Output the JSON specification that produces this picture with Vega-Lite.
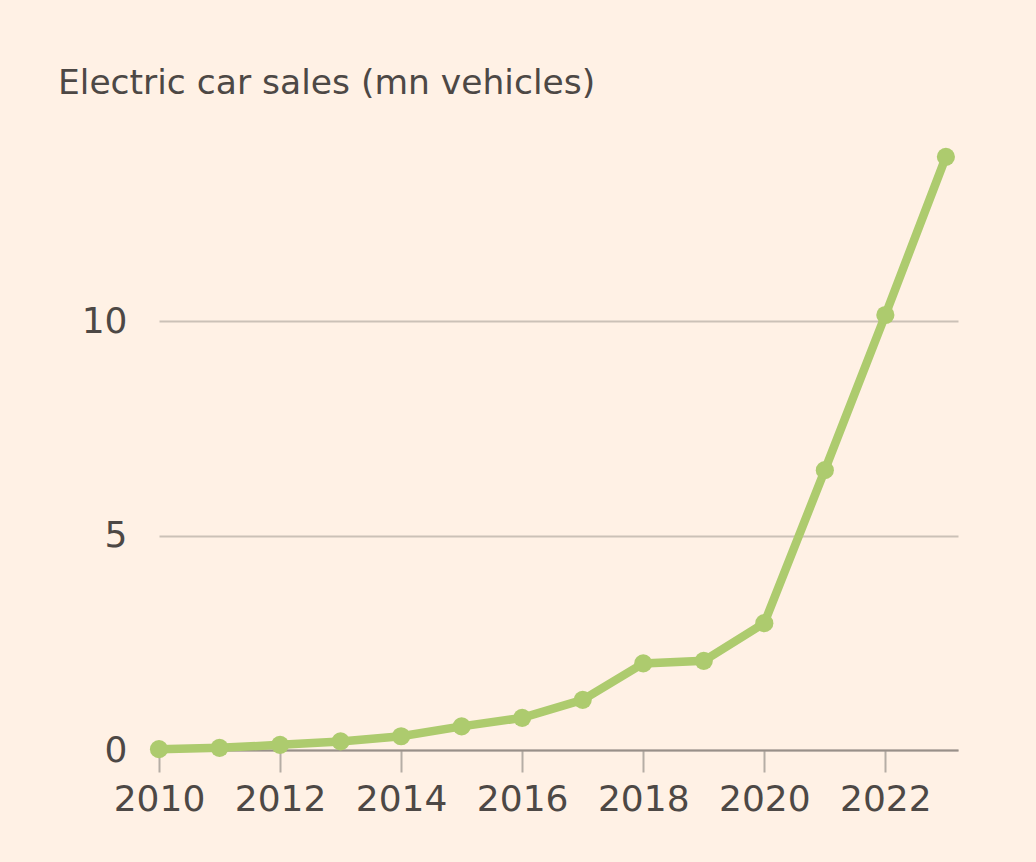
{
  "$schema": "https://vega.github.io/schema/vega-lite/v6.json",
  "width": 799,
  "height": 600,
  "autosize": {"type": "none"},
  "padding": {"left": 159, "top": 150, "right": 78, "bottom": 112},
  "background": "#FFF1E5",
  "title": {
    "text": "Electric car sales (mn vehicles)",
    "anchor": "start",
    "frame": "group",
    "dx": -101,
    "offset": 38,
    "font": "DejaVu Sans",
    "fontSize": 34.5,
    "fontWeight": "normal",
    "color": "#4D4845"
  },
  "config": {
    "view": {"stroke": null},
    "axis": {"labelFont": "DejaVu Sans", "labelColor": "#4D4845", "labelFontSize": 36}
  },
  "data": {
    "values": [
      {"year": 2010, "sales": 0.02},
      {"year": 2011, "sales": 0.05},
      {"year": 2012, "sales": 0.12},
      {"year": 2013, "sales": 0.2},
      {"year": 2014, "sales": 0.32},
      {"year": 2015, "sales": 0.55},
      {"year": 2016, "sales": 0.75},
      {"year": 2017, "sales": 1.17},
      {"year": 2018, "sales": 2.02},
      {"year": 2019, "sales": 2.08},
      {"year": 2020, "sales": 2.96},
      {"year": 2021, "sales": 6.53},
      {"year": 2022, "sales": 10.15},
      {"year": 2023, "sales": 13.84}
    ]
  },
  "encoding": {
    "x": {
      "field": "year",
      "type": "quantitative",
      "scale": {"domain": [2010, 2023.2], "nice": false, "zero": false},
      "axis": {
        "title": null,
        "values": [2010, 2012, 2014, 2016, 2018, 2020, 2022],
        "format": "d",
        "grid": false,
        "domainColor": "#999089",
        "domainWidth": 2,
        "tickColor": "#B5ADA5",
        "tickWidth": 2,
        "tickSize": 22,
        "labelPadding": 10,
        "labelFlush": false
      }
    },
    "y": {
      "field": "sales",
      "type": "quantitative",
      "scale": {"domain": [0, 14], "nice": false},
      "axis": {
        "title": null,
        "values": [0, 5, 10],
        "domain": false,
        "ticks": false,
        "gridColor": "#CBC1B7",
        "gridWidth": 2,
        "labelPadding": 32,
        "labelBaseline": "middle"
      }
    }
  },
  "layer": [
    {"mark": {"type": "line", "color": "#ADCB6E", "strokeWidth": 8.5}},
    {"mark": {"type": "point", "filled": true, "opacity": 1, "color": "#ADCB6E", "size": 330}}
  ]
}
